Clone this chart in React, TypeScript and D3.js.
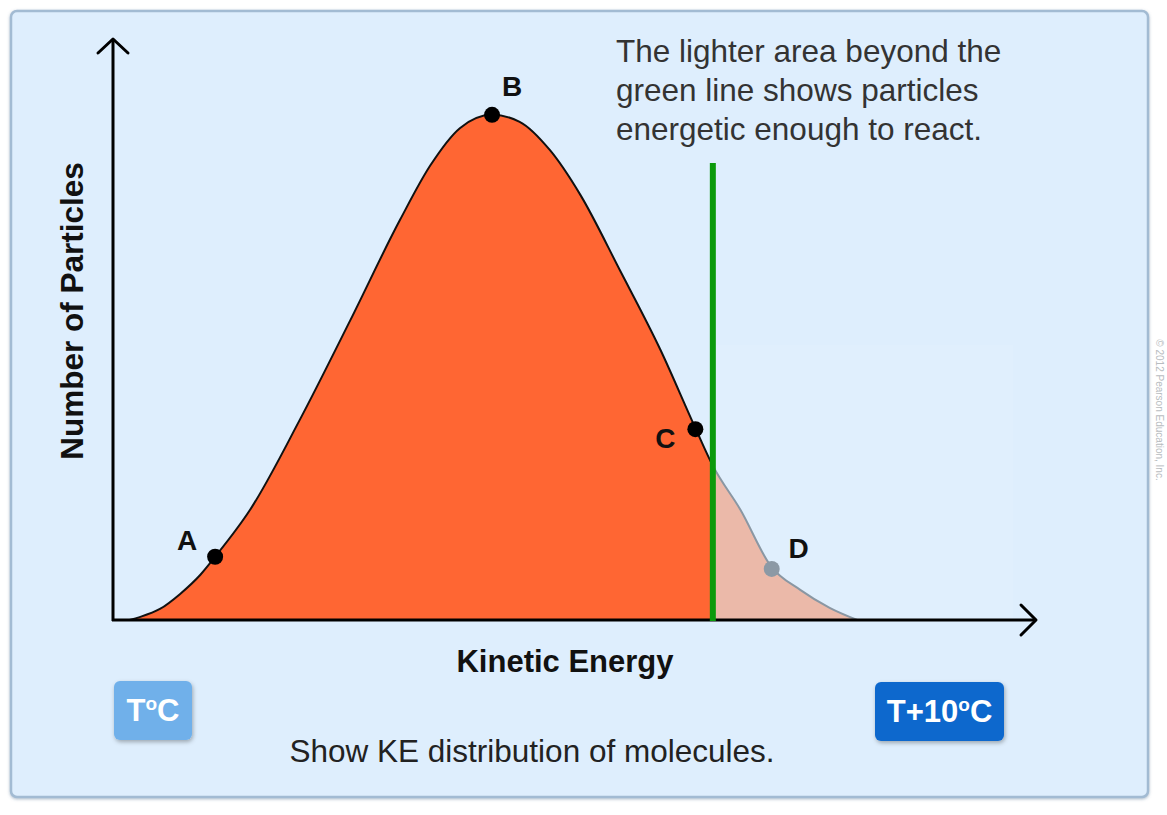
import React from "react";
import * as d3 from "d3";

const keValues = [0.18, 0.29, 0.51, 0.73, 0.95, 1.11, 1.49, 2.03, 2.58, 3.12, 3.45, 3.77, 4.12, 4.42, 4.75, 5.08, 5.51, 5.95, 6.33, 6.52, 6.82, 7.15, 7.47, 7.79, 8.09];
const particleCounts = [0, 0.5, 1.9, 4.5, 7.8, 10.9, 19.0, 34.5, 51.7, 69.0, 78.4, 84.8, 87.1, 85.9, 81.0, 73.3, 60.3, 46.6, 33.1, 26.6, 19.0, 9.3, 5.2, 2.1, 0];
const activationKE = 6.52;
const markerLabels = ["A", "B", "C", "D"];
const markerKE = [1.11, 4.12, 6.33, 7.16];
const markerCounts = [10.9, 87.1, 32.9, 8.8];
const noteLines = ["The lighter area beyond the", "green line shows particles", "energetic enough to react."];

const FONT = "'Liberation Sans', Arial, Helvetica, sans-serif";

export default function App() {
  const x = d3.scaleLinear().domain([0, 10]).range([113, 1033]);
  const y = d3.scaleLinear().domain([0, 100]).range([620, 40]);
  const pts: [number, number][] = keValues.map((k, i) => [k, particleCounts[i]]);
  const area = d3
    .area<[number, number]>()
    .x((d) => x(d[0]))
    .y0(y(0))
    .y1((d) => y(d[1]))
    .curve(d3.curveMonotoneX);
  const line = d3
    .line<[number, number]>()
    .x((d) => x(d[0]))
    .y((d) => y(d[1]))
    .curve(d3.curveMonotoneX);
  const ax = x(activationKE);
  const areaPath = area(pts) || "";
  const linePath = line(pts) || "";

  const labelOffsets = [
    [-28, -17],
    [20, -29],
    [-30, 9],
    [27, -21],
  ];

  return (
    <svg width={1167} height={815} style={{ position: "absolute", left: 0, top: 0 }} fontFamily={FONT}>
      <defs>
        <clipPath id="leftClip">
          <rect x={0} y={0} width={ax} height={815} />
        </clipPath>
        <clipPath id="rightClip">
          <rect x={ax} y={0} width={1167 - ax} height={815} />
        </clipPath>
        <filter id="btnShadow" x="-20%" y="-20%" width="140%" height="150%">
          <feDropShadow dx="1" dy="2" stdDeviation="2" floodColor="#000" floodOpacity="0.3" />
        </filter>
        <filter id="panelShadow" x="-5%" y="-5%" width="110%" height="110%">
          <feDropShadow dx="0" dy="1" stdDeviation="1.5" floodColor="#5a7a98" floodOpacity="0.5" />
        </filter>
      </defs>
      <rect x={0} y={0} width={1167} height={815} fill="#ffffff" />
      <rect x={11} y={11} width={1137} height={786} rx={6} fill="#deeefd" stroke="#a2bbd3" strokeWidth={2.5} filter="url(#panelShadow)" />
      <text transform="translate(1156,410) rotate(90)" textAnchor="middle" fontSize={10} fill="#b8bcc0">
        © 2012 Pearson Education, Inc.
      </text>

      {/* faint lighter region */}
      <rect x={ax} y={345} width={1013 - ax} height={275} fill="#e0effd" />

      {/* areas */}
      <path d={areaPath} fill="#ff6633" clipPath="url(#leftClip)" />
      <path d={areaPath} fill="#ebb9a9" clipPath="url(#rightClip)" />
      <path d={linePath} fill="none" stroke="#111" strokeWidth={2} clipPath="url(#leftClip)" />
      <path d={linePath} fill="none" stroke="#8a97a3" strokeWidth={2} clipPath="url(#rightClip)" />

      {/* axes */}
      <line x1={113} y1={621} x2={113} y2={40} stroke="#000" strokeWidth={3} />
      <polyline points="98,53 113,39 128,53" fill="none" stroke="#000" strokeWidth={3} strokeLinecap="round" strokeLinejoin="round" />
      <line x1={112} y1={620} x2={1034} y2={620} stroke="#000" strokeWidth={3} />
      <polyline points="1021,605 1036,620 1021,635" fill="none" stroke="#000" strokeWidth={3} strokeLinecap="round" strokeLinejoin="round" />

      {/* activation line */}
      <line x1={ax} y1={163} x2={ax} y2={621} stroke="#0b9a0b" strokeWidth={6} />

      {/* markers */}
      {markerLabels.map((lab, i) => {
        const cx = x(markerKE[i]);
        const cy = y(markerCounts[i]);
        const isD = lab === "D";
        return (
          <g key={lab}>
            <circle cx={cx} cy={cy} r={8} fill={isD ? "#8c99a5" : "#000"} />
            <text
              x={cx + labelOffsets[i][0]}
              y={cy + labelOffsets[i][1] + 10}
              textAnchor="middle"
              fontSize={28}
              fontWeight="bold"
              fill="#111"
            >
              {lab}
            </text>
          </g>
        );
      })}

      {/* note */}
      {noteLines.map((t, i) => (
        <text key={i} x={616} y={62 + i * 39} fontSize={31.5} fill="#333">
          {t}
        </text>
      ))}

      {/* axis titles */}
      <text transform="translate(83,311) rotate(-90)" textAnchor="middle" fontSize={31.5} fontWeight="bold" fill="#111">
        Number of Particles
      </text>
      <text x={565} y={672} textAnchor="middle" fontSize={31} fontWeight="bold" fill="#111">
        Kinetic Energy
      </text>
      <text x={532} y={762} textAnchor="middle" fontSize={31.5} fill="#222">
        Show KE distribution of molecules.
      </text>

      {/* buttons */}
      <rect x={114} y={681} width={78} height={59} rx={6} fill="#6fb0ea" filter="url(#btnShadow)" />
      <text x={153} y={721} textAnchor="middle" fontSize={31} fontWeight="bold" fill="#fff">
        T<tspan fontSize={19} dy={-11}>o</tspan>
        <tspan dy={11}>C</tspan>
      </text>
      <rect x={875} y={682} width={129} height={59} rx={6} fill="#0b67cd" filter="url(#btnShadow)" />
      <text x={939.5} y={722} textAnchor="middle" fontSize={31} fontWeight="bold" fill="#fff">
        T+10<tspan fontSize={19} dy={-11}>o</tspan>
        <tspan dy={11}>C</tspan>
      </text>
    </svg>
  );
}
